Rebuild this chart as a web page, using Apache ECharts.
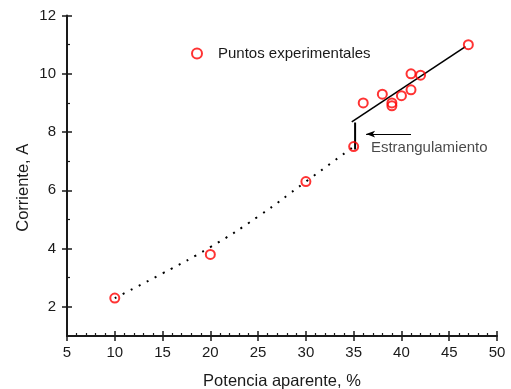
<!DOCTYPE html>
<html>
<head>
<meta charset="utf-8">
<script src="https://cdn.jsdelivr.net/npm/echarts@6/dist/echarts.min.js"></script>
<style>
    html, body { margin: 0; padding: 0; background: #fff; }
    #chart { width: 511px; height: 389px; }
</style>
</head>
<body>
<div id="chart"></div>
<script>
// puntos medidos
const powerPct = [10, 20, 30, 35, 36, 38, 39, 39, 40, 41, 41, 42, 47];
const currentA = [2.3, 3.8, 6.3, 7.5, 9.0, 9.3, 9.0, 8.9, 9.25, 9.45, 10.0, 9.95, 11.0];

// tendencia punteada
const trendX = [10, 15, 20, 25, 30, 35];
const trendY = [2.3, 3.15, 4.05, 5.1, 6.3, 7.5];

// recta de ajuste despues del estrangulamiento
const fitX = [34.8, 46.7];
const fitY = [8.35, 10.93];

// salto vertical
const jumpX = [35.15, 35.15];
const jumpY = [8.33, 7.4];

// flecha + texto
const arrowX = [41, 36.3];
const arrowY = [7.93, 7.93];
const noteXY = [36.75, 7.45];
const noteText = 'Estrangulamiento';

const yTicks = [2, 4, 6, 8, 10, 12];
const yMinor = [3, 5, 7, 9, 11];

const ink = '#1a1a1a';
const font = 'Liberation Sans, Arial, sans-serif';

let zip = (xs, ys) => xs.map((x, i) => [x, ys[i]]);

let xBase = {
    type: 'value', min: 5, max: 50, interval: 5, position: 'bottom',
    gridIndex: 0, splitLine: { show: false }
};
let yBase = {
    type: 'value', min: 1, max: 12, position: 'left',
    gridIndex: 0, splitLine: { show: false }
};

let option = {
    animation: false,
    textStyle: { fontFamily: font },
    grid: { left: 67, right: 14, top: 15.5, bottom: 53, containLabel: false, outerBoundsMode: 'none' },
    legend: {
        data: ['Puntos experimentales'],
        left: 186, top: 41,
        itemWidth: 22, itemHeight: 10, itemGap: 0,
        textStyle: { fontSize: 15, color: ink, padding: [0, 0, 0, 5] }
    },
    xAxis: [
        {
            ...xBase,
            name: 'Potencia aparente, %',
            nameLocation: 'middle', nameGap: 37, nameMoveOverlap: false,
            nameTextStyle: { fontSize: 16.5, color: ink },
            axisLine: { lineStyle: { color: ink, width: 2 } },
            axisTick: { inside: true, length: 5, lineStyle: { color: ink, width: 1.5 } },
            minorTick: { show: true, splitNumber: 5, length: 3, lineStyle: { color: ink, width: 1.2 } },
            axisLabel: { fontSize: 15, color: ink, margin: 9 }
        },
        {
            ...xBase,
            axisLine: { show: false },
            axisTick: { inside: false, length: 5, lineStyle: { color: ink, width: 1.5 } },
            axisLabel: { show: false }
        }
    ],
    yAxis: [
        {
            ...yBase,
            name: 'Corriente, A',
            nameLocation: 'middle', nameGap: 35, nameMoveOverlap: false,
            nameTextStyle: { fontSize: 16.5, color: ink, padding: [0, 0, 0, -24] },
            axisLine: { lineStyle: { color: ink, width: 2 } },
            axisTick: { inside: true, length: 5, customValues: yTicks, lineStyle: { color: ink, width: 1.5 } },
            axisLabel: { fontSize: 15, color: ink, margin: 11, customValues: yTicks }
        },
        {
            ...yBase,
            axisLine: { show: false },
            axisTick: { inside: false, length: 5, customValues: yTicks, lineStyle: { color: ink, width: 1.5 } },
            axisLabel: { show: false }
        },
        {
            ...yBase,
            axisLine: { show: false },
            axisTick: { inside: true, length: 3, customValues: yMinor, lineStyle: { color: ink, width: 1.2 } },
            axisLabel: { show: false }
        }
    ],
    series: [
        {
            type: 'line',
            data: zip(trendX, trendY),
            smooth: true,
            symbol: 'none',
            lineStyle: { color: '#000', width: 2, type: [2, 7] },
            z: 1
        },
        {
            type: 'line',
            data: zip(fitX, fitY),
            symbol: 'none',
            lineStyle: { color: '#000', width: 1.6 },
            z: 1
        },
        {
            type: 'line',
            data: zip(jumpX, jumpY),
            symbol: 'none',
            lineStyle: { color: '#000', width: 2 },
            markLine: {
                silent: true,
                symbol: ['none', 'arrow'],
                symbolSize: [5, 9],
                label: { show: false },
                lineStyle: { color: '#000', width: 1, type: 'solid' },
                data: [[
                    { coord: [arrowX[0], arrowY[0]] },
                    { coord: [arrowX[1], arrowY[1]] }
                ]]
            },
            z: 1
        },
        {
            type: 'scatter',
            data: [noteXY],
            symbolSize: 1,
            itemStyle: { color: 'rgba(0,0,0,0)' },
            label: {
                show: true, position: 'right', distance: 0,
                formatter: noteText, fontSize: 15, color: ink
            },
            z: 1
        },
        {
            name: 'Puntos experimentales',
            type: 'scatter',
            data: zip(powerPct, currentA),
            symbol: 'circle',
            symbolSize: 9,
            itemStyle: { color: 'rgba(255,255,255,0)', borderColor: '#ff0000', borderWidth: 2 },
            z: 3
        }
    ]
};

let chart = echarts.init(document.getElementById('chart'));
chart.setOption(option);
</script>
</body>
</html>
